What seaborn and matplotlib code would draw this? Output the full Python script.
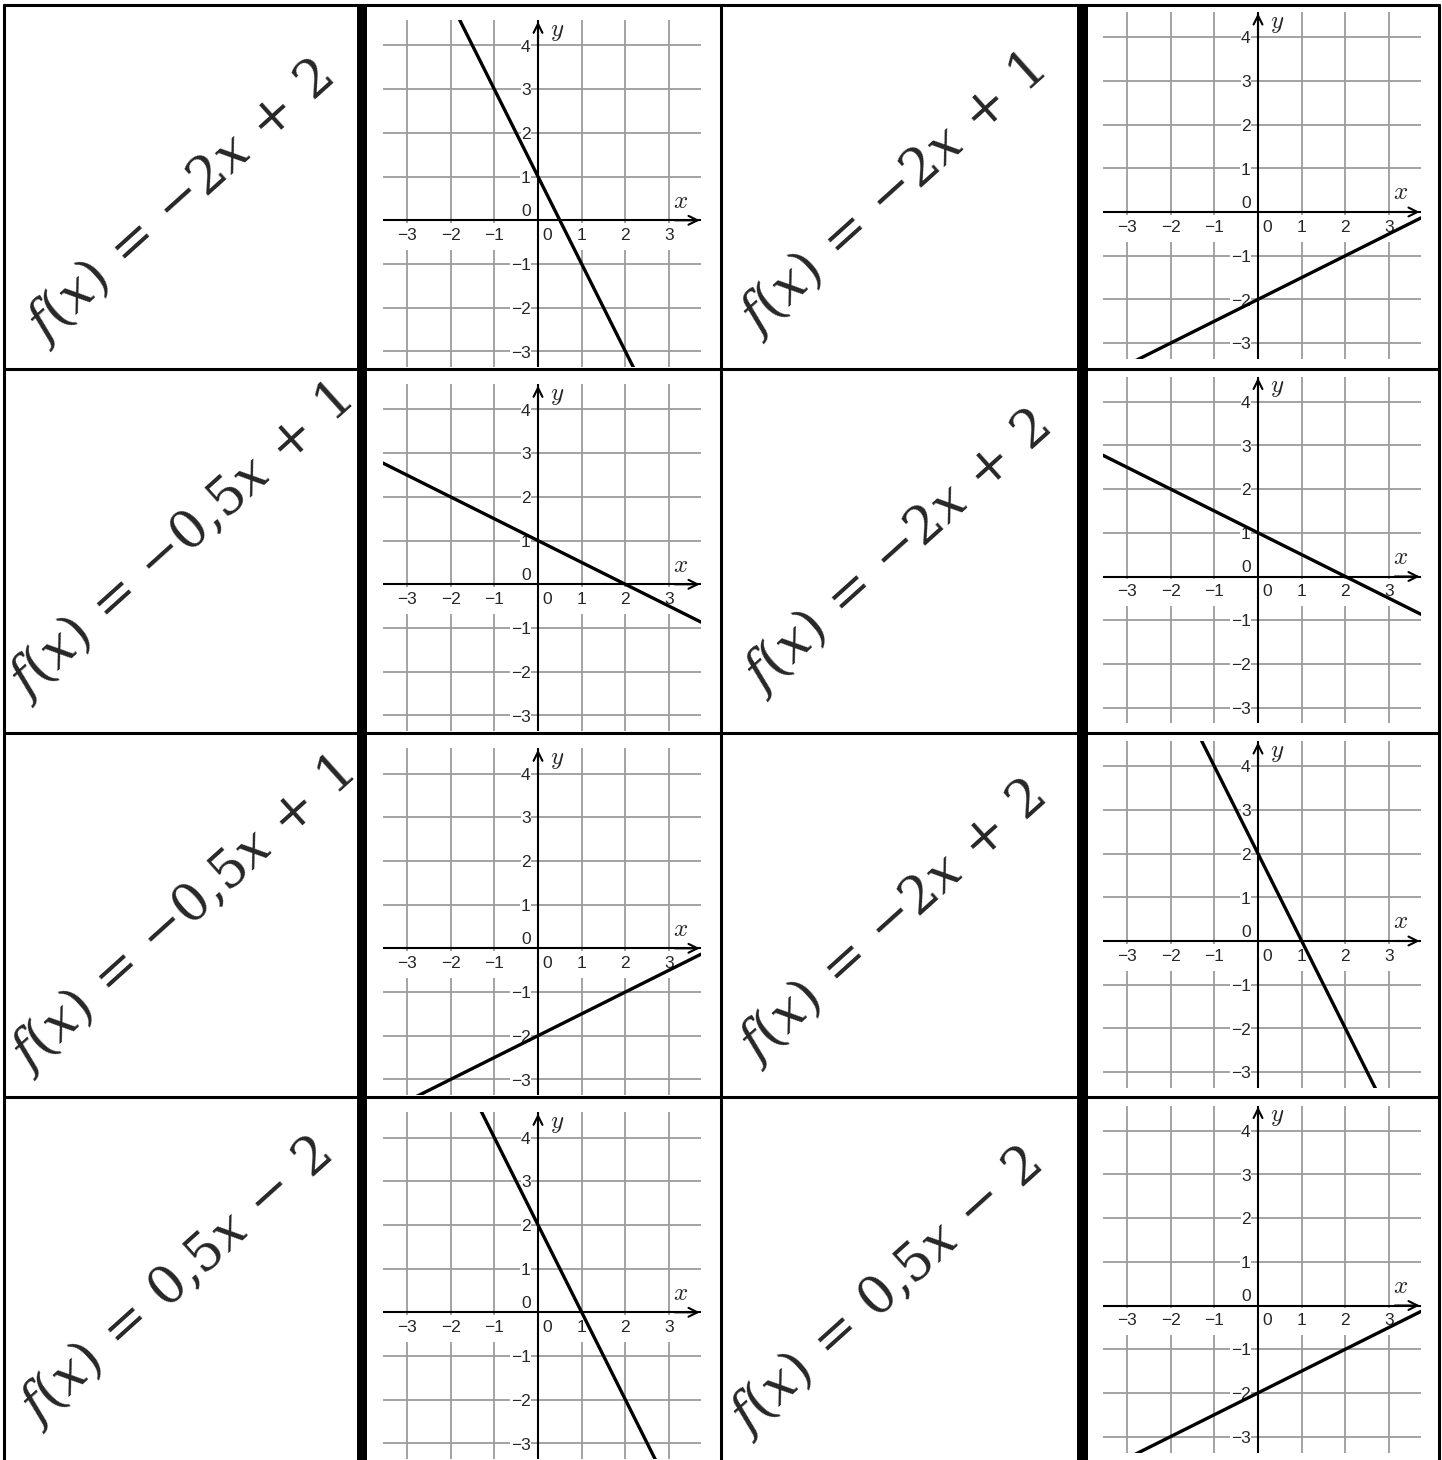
import numpy as np
import pandas as pd
import matplotlib
matplotlib.use('Agg')
import matplotlib.pyplot as plt
from matplotlib.patches import Rectangle
import seaborn as sns

# formulas written in the text cells (column 1 and column 3 of the table)
formulas_left = [r'$f(x)\,=\,{-}2x\,+\,2$', r'$f(x)\,=\,{-}0{,}5x\,+\,1$',
                 r'$f(x)\,=\,{-}0{,}5x\,+\,1$', r'$f(x)\,=\,0{,}5x\,-\,2$']
formulas_right = [r'$f(x)\,=\,{-}2x\,+\,1$', r'$f(x)\,=\,{-}2x\,+\,2$',
                  r'$f(x)\,=\,{-}2x\,+\,2$', r'$f(x)\,=\,0{,}5x\,-\,2$']

# straight lines in the graph cells (slope, intercept)
slopes_left = [-2, -0.5, 0.5, -2]
intercepts_left = [1, 1, -2, 2]
slopes_right = [0.5, -0.5, -2, 0.5]
intercepts_right = [-2, 1, 2, -2]

# grid / tick values
x_ticks = [-3, -2, -1, 0, 1, 2, 3]
y_ticks = [-3, -2, -1, 0, 1, 2, 3, 4]

sns.set_theme(style='white')
plt.rcParams['font.family'] = ['Liberation Sans', 'DejaVu Sans']

W, H = 1442, 1460
U = 43.7  # pixels per unit in the small graphs
fig = plt.figure(figsize=(W / 100, H / 100), dpi=100)
fig.patch.set_facecolor('white')


def minus(v):
    return str(v).replace('-', '\u2212')


def graph(ox, oy, slope, intercept):
    left, right = ox - 155, ox + 163
    top, bottom = oy - 200, oy + 147
    ax = fig.add_axes([left / W, 1 - bottom / H, (right - left) / W, (bottom - top) / H])
    xmin, xmax = (left - ox) / U, (right - ox) / U
    ymin, ymax = (oy - bottom) / U, (oy - top) / U
    ax.set_xlim(xmin, xmax)
    ax.set_ylim(ymin, ymax)
    ax.set_xticks(x_ticks)
    ax.set_yticks(y_ticks)
    ax.grid(True, color='#9c9c9c', lw=1.3)
    ax.tick_params(length=0, labelbottom=False, labelleft=False)
    sns.despine(ax=ax, left=True, bottom=True)
    ax.set_facecolor('none')

    # white strip behind the x tick labels
    ax.axhspan(-0.68, -0.06, color='white', lw=0, zorder=1)
    ax.axhline(0, color='black', lw=1.5, zorder=2.5)
    ax.axvline(0, color='black', lw=1.5, zorder=2.5)
    ax.annotate('', xy=(xmax - 0.03, 0), xytext=(xmax - 0.6, 0),
                arrowprops=dict(arrowstyle='->', color='black', lw=1.5,
                                mutation_scale=16, shrinkA=0, shrinkB=0), zorder=2.5)
    ax.annotate('', xy=(0, ymax - 0.03), xytext=(0, ymax - 0.6),
                arrowprops=dict(arrowstyle='->', color='black', lw=1.5,
                                mutation_scale=16, shrinkA=0, shrinkB=0), zorder=2.5)

    for v in x_ticks:
        if v == 0:
            ax.text(0.22, -0.35, '0', ha='center', va='center', fontsize=12.5, zorder=2)
        else:
            ax.text(v, -0.35, minus(v), ha='center', va='center', fontsize=12.5, zorder=2)
    for v in y_ticks:
        if v == 0:
            ax.text(-0.17, 0.2, '0', ha='right', va='center', fontsize=12.5, zorder=2)
        else:
            ax.text(-0.17, v - 0.04, minus(v), ha='right', va='center', fontsize=12.5, zorder=2,
                    bbox=dict(facecolor='white', edgecolor='none', pad=0.3))
    ax.text(3.27, 0.45, '$x$', ha='center', va='center', fontsize=18, math_fontfamily='cm')
    ax.text(0.43, 4.33, '$y$', ha='center', va='center', fontsize=18, math_fontfamily='cm')

    df = pd.DataFrame({'x': [xmin, xmax]})
    df['y'] = slope * df['x'] + intercept
    sns.lineplot(data=df, x='x', y='y', color='black', lw=2.4, ax=ax, zorder=3)
    ax.set_xlabel('')
    ax.set_ylabel('')


oy_left = [220.3, 584.3, 948.3, 1312.3]
oy_right = [212, 576.5, 941, 1305.5]
for i in range(4):
    graph(538, oy_left[i], slopes_left[i], intercepts_left[i])
    graph(1258, oy_right[i], slopes_right[i], intercepts_right[i])

# table lines and formulas on top
tab = fig.add_axes([0, 0, 1, 1], zorder=10)
tab.set_xlim(0, W)
tab.set_ylim(H, 0)
tab.axis('off')
tab.patch.set_alpha(0)

row_lines = [5, 369, 733, 1097]
for y in row_lines:
    tab.plot([3, 1440], [y, y], color='black', lw=2.2, solid_capstyle='butt')
for x in [4, 721, 1439]:
    tab.plot([x, x], [4, H], color='black', lw=2.2, solid_capstyle='butt')
for x0, x1 in [(357, 367), (1077, 1088)]:
    tab.add_patch(Rectangle((x0, 4), x1 - x0, H - 4, color='black', lw=0))

centers_left = [(180, 202), (180, 542), (182, 915), (175, 1282)]
centers_right = [(892, 195), (897, 552), (892, 922), (885, 1292)]
for i in range(4):
    cx, cy = centers_left[i]
    tab.text(cx, cy, formulas_left[i], rotation=42, rotation_mode='anchor',
             ha='center', va='center', fontsize=38, math_fontfamily='dejavuserif')
    cx, cy = centers_right[i]
    tab.text(cx, cy, formulas_right[i], rotation=42, rotation_mode='anchor',
             ha='center', va='center', fontsize=38, math_fontfamily='dejavuserif')

fig.savefig('out.png', dpi=100, facecolor='white')
